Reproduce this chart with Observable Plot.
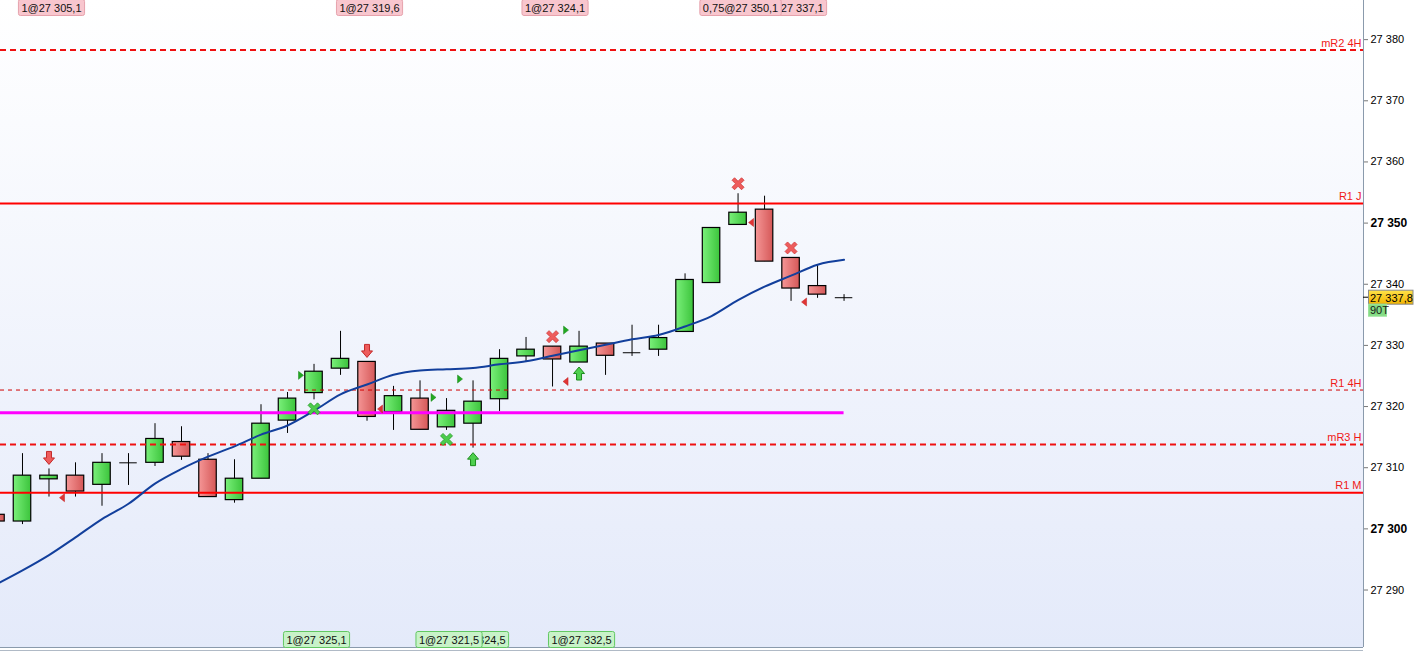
<!DOCTYPE html>
<html>
<head>
<meta charset="utf-8">
<script src="https://cdn.jsdelivr.net/npm/d3@7"></script>
<script src="https://cdn.jsdelivr.net/npm/@observablehq/plot@0.6"></script>
<style>
  body { margin: 0; background: #fff; }
  #chart svg { display: block; }
</style>
</head>
<body>
<div id="chart"></div>
<script>
// bougies, une par position (index 0 = la plus ancienne)
const open  = [27302.3, 27301.2, 27308.1, 27308.7, 27307.2, 27310.8, 27310.8, 27314.2, 27311.3, 27304.7, 27308.2,
               27317.7, 27322.2, 27326.2, 27327.3, 27319.1, 27321.3, 27316.6, 27317.2, 27321.2, 27328.2, 27329.8,
               27327.2, 27330.3, 27328.8, 27329.3, 27332.2, 27340.2, 27349.7, 27352.2, 27344.3, 27339.7, 27337.8]
const high  = [27302.3, 27312.3, 27309.8, 27310.8, 27312.3, 27312.3, 27317.2, 27316.7, 27312.3, 27311.3, 27320.3,
               27322.3, 27326.9, 27332.3, 27327.3, 27323.3, 27324.2, 27321.3, 27324.2, 27329.3, 27331.3, 27329.8,
               27332.3, 27330.3, 27333.3, 27333.3, 27341.7, 27349.2, 27354.8, 27354.4, 27344.3, 27343.1, 27338.3]
const low   = [27301.2, 27300.7, 27305.2, 27305.2, 27303.7, 27307.1, 27310.2, 27311.2, 27305.2, 27304.2, 27308.2,
               27315.6, 27321.1, 27325.1, 27317.6, 27316.1, 27316.2, 27316.1, 27313.2, 27319.2, 27327.2, 27323.2,
               27327.2, 27325.1, 27328.2, 27328.2, 27332.2, 27340.2, 27349.7, 27343.7, 27337.2, 27337.7, 27337.2]
const close = [27301.2, 27308.7, 27308.7, 27306.1, 27310.8, 27310.8, 27314.7, 27311.8, 27305.2, 27308.2, 27317.2,
               27321.3, 27325.7, 27327.8, 27318.3, 27321.7, 27316.2, 27319.3, 27320.8, 27327.8, 27329.3, 27327.7,
               27329.8, 27328.3, 27328.8, 27331.2, 27340.7, 27349.2, 27351.7, 27343.7, 27339.3, 27338.3, 27337.8]

// moyenne mobile (ligne bleue)
const moyenne = [27290.9, 27293.2, 27295.7, 27298.6, 27301.6, 27304.1, 27307.4, 27309.8, 27311.8, 27313.5, 27315.4,
                 27316.9, 27319.3, 27322.0, 27323.6, 27325.2, 27325.9, 27326.1, 27326.3, 27326.9, 27327.4, 27328.3,
                 27329.2, 27330.1, 27331.0, 27331.7, 27333.1, 27334.8, 27337.4, 27339.6, 27341.4, 27343.2, 27344.0]

// niveaux
const niveauNoms    = ["mR2 4H", "R1 J", "R1 4H", "mR3 H", "R1 M"]
const niveauValeurs = [27378.3, 27353.2, 27322.7, 27313.8, 27305.9]
const niveauStyles  = ["tirets", "plein", "fin", "tirets", "plein"]
const pivot = 27319.0
const pivotFin = 32

// ordres
const venteIdx   = [2, 14, 21, 28, 30]
const ventePrix  = [27305.1, 27319.6, 27324.1, 27350.1, 27337.1]
const venteQte   = ["1", "1", "1", "0,75", "1"]
const venteSigne = ["fleche", "fleche", "croix", "croix", "croix"]
const achatIdx   = [12, 17, 18, 22]
const achatPrix  = [27325.1, 27321.5, 27324.5, 27332.5]
const achatQte   = ["1", "1", "1", "1"]
const achatSigne = ["croix", "croix", "fleche", "fleche"]

const ticks = [27290, 27300, 27310, 27320, 27330, 27340, 27350, 27360, 27370, 27380]
const dernier = 27337.8
const volume = "90T"

const loc = d3.formatLocale({decimal: ",", thousands: " ", grouping: [3], currency: ["", ""]})
const fmtPrix = loc.format(",.1f")
const fmtTick = loc.format(",d")

const candles = open.map((o, i) => ({i, open: o, high: high[i], low: low[i], close: close[i]}))
const ma = moyenne.map((v, i) => ({i, v}))
const niveaux = niveauNoms.map((n, k) => ({nom: n, y: niveauValeurs[k], style: niveauStyles[k]}))
const ventes = venteIdx.map((d, k) => ({i: d, prix: ventePrix[k], qte: venteQte[k], signe: venteSigne[k], high: high[d]}))
const achats = achatIdx.map((d, k) => ({i: d, prix: achatPrix[k], qte: achatQte[k], signe: achatSigne[k], low: low[d]}))

const demi = 0.33
const font = "'Liberation Sans', Arial, sans-serif"

// symboles
const flecheBas = {draw(c) { c.moveTo(-2.5, -6.5); c.lineTo(2.5, -6.5); c.lineTo(2.5, 0); c.lineTo(5.5, 0); c.lineTo(0, 6.5); c.lineTo(-5.5, 0); c.lineTo(-2.5, 0); c.closePath() }}
const flecheHaut = {draw(c) { c.moveTo(-2.5, 6.5); c.lineTo(2.5, 6.5); c.lineTo(2.5, 0); c.lineTo(5.5, 0); c.lineTo(0, -6.5); c.lineTo(-5.5, 0); c.lineTo(-2.5, 0); c.closePath() }}
const croix = {draw(c) {
  const p = [[-6,-3.5],[-3.5,-6],[0,-2.5],[3.5,-6],[6,-3.5],[2.5,0],[6,3.5],[3.5,6],[0,2.5],[-3.5,6],[-6,3.5],[-2.5,0]]
  c.moveTo(...p[0]); p.slice(1).forEach(q => c.lineTo(...q)); c.closePath()
}}
const triGauche = {draw(c) { c.moveTo(-2.5, 0); c.lineTo(2.5, -4); c.lineTo(2.5, 4); c.closePath() }}
const triDroite = {draw(c) { c.moveTo(2.5, 0); c.lineTo(-2.5, -4); c.lineTo(-2.5, 4); c.closePath() }}

function grad(defs, id, c0, c1, vertical) {
  const lg = defs.append("linearGradient").attr("id", id)
    .attr("x1", 0).attr("y1", 0).attr("x2", vertical ? 0 : 1).attr("y2", vertical ? 1 : 0)
  lg.append("stop").attr("offset", "0%").attr("stop-color", c0)
  lg.append("stop").attr("offset", "100%").attr("stop-color", c1)
}

// fond degrade + bords
function fond(index, scales, values, dim) {
  const g = d3.create("svg:g")
  const defs = g.append("defs")
  grad(defs, "gUp", "#7af07a", "#3cc43c")
  grad(defs, "gDown", "#f59696", "#d55858")
  grad(defs, "gBg", "#ffffff", "#e4eafa", true)
  grad(defs, "gTag", "#ffe34a", "#f2b400", true)
  const x0 = dim.marginLeft, x1 = dim.width - dim.marginRight, y1 = dim.height - dim.marginBottom
  g.append("rect").attr("x", x0).attr("y", dim.marginTop).attr("width", x1 - x0).attr("height", y1 - dim.marginTop).attr("fill", "url(#gBg)")
  g.append("line").attr("x1", x1 + 0.5).attr("x2", x1 + 0.5).attr("y1", 0).attr("y2", y1).attr("stroke", "#8a9aac")
  g.append("line").attr("x1", 0).attr("x2", x1).attr("y1", y1 + 0.5).attr("y2", y1 + 0.5).attr("stroke", "#8a9aac")
  g.append("line").attr("x1", 0).attr("x2", x1).attr("y1", y1 + 3.5).attr("y2", y1 + 3.5).attr("stroke", "#b0bac6")
  return g.node()
}

function largeur(t) {
  let w = 0
  for (const ch of t) w += /[0-9]/.test(ch) ? 6.12 : ch === "@" ? 11.17 : 3.06
  return w
}

// etiquettes d'ordres en haut (ventes) et en bas (achats)
function etiquettes(index, scales, values, dim) {
  const g = d3.create("svg:g").attr("font-family", font).attr("font-size", 11).attr("text-anchor", "middle")
  const boite = (d, y, fill, stroke) => {
    const t = `${d.qte}@${fmtPrix(d.prix)}`
    const w = largeur(t) + 6
    const cx = scales.x(d.i) + 3
    g.append("rect").attr("x", cx - w / 2).attr("y", y).attr("width", w).attr("height", 16)
      .attr("rx", 2).attr("fill", fill).attr("stroke", stroke)
    g.append("text").attr("x", cx).attr("y", y + 12).attr("fill", "#111").text(t)
  }
  ventes.slice().sort((a, b) => b.i - a.i).forEach(d => boite(d, -0.5, "#f8c6ce", "#e6a2ac"))
  const yb = dim.height - dim.marginBottom - 15.5
  achats.slice().sort((a, b) => b.i - a.i).forEach(d => boite(d, yb, "#c8f2c8", "#62c862"))
  return g.node()
}

// dernier prix et volume sur l'axe
function prixActuel(index, scales, values, dim) {
  const g = d3.create("svg:g").attr("font-family", font).attr("text-anchor", "start")
  const x = dim.width - dim.marginRight
  const y = scales.y(dernier)
  g.append("line").attr("x1", x).attr("x2", x + 5).attr("y1", y).attr("y2", y).attr("stroke", "#000")
  g.append("rect").attr("x", x + 5.5).attr("y", y - 7).attr("width", 44.5).attr("height", 14)
    .attr("fill", "url(#gTag)").attr("stroke", "#8a8a8a")
  g.append("text").attr("x", x + 7).attr("y", y + 4.5).attr("font-size", 11).attr("fill", "#000").text(fmtPrix(dernier))
  g.append("rect").attr("x", x + 5.5).attr("y", y + 7).attr("width", 18).attr("height", 12)
    .attr("fill", "#84dc84").attr("stroke", "#9be39b")
  g.append("text").attr("x", x + 7).attr("y", y + 17).attr("font-size", 11).attr("fill", "#1a1a1a").text(volume)
  return g.node()
}

const chart = Plot.plot({
  width: 1414,
  height: 651,
  marginLeft: 0,
  marginRight: 51,
  marginTop: 0,
  marginBottom: 4,
  style: {fontFamily: font, background: "#fff"},
  x: {type: "linear", domain: [0.17, 51.6], axis: null},
  y: {domain: [27280.6, 27386.4]},
  marks: [
    fond,
    // meches
    Plot.ruleX(candles, {x: "i", y1: "low", y2: "high", stroke: "#000", strokeWidth: 1}),
    // corps
    Plot.rect(candles.filter(d => d.close > d.open), {x1: d => d.i - demi, x2: d => d.i + demi, y1: "open", y2: "close", fill: "url(#gUp)", stroke: "#000", strokeWidth: 1.2}),
    Plot.rect(candles.filter(d => d.close < d.open), {x1: d => d.i - demi, x2: d => d.i + demi, y1: "open", y2: "close", fill: "url(#gDown)", stroke: "#000", strokeWidth: 1.2}),
    Plot.ruleY(candles.filter(d => d.close === d.open), {y: "open", x1: d => d.i - demi, x2: d => d.i + demi, stroke: "#000", strokeWidth: 1}),
    // niveaux
    Plot.ruleY(niveaux.filter(d => d.style === "plein"), {y: "y", stroke: "#ff0000", strokeWidth: 2}),
    Plot.ruleY(niveaux.filter(d => d.style === "tirets"), {y: "y", stroke: "#f01010", strokeWidth: 2, strokeDasharray: "6,4"}),
    Plot.ruleY(niveaux.filter(d => d.style === "fin"), {y: "y", stroke: "#d00000", strokeWidth: 1, strokeDasharray: "4,4"}),
    Plot.text(niveaux, {y: "y", text: "nom", frameAnchor: "right", textAnchor: "end", dx: -2, dy: -7, fill: "#f01818", fontSize: 11}),
    Plot.ruleY([pivot], {y: d => d, x1: 0, x2: pivotFin, stroke: "#ff00ff", strokeWidth: 3}),
    // moyenne mobile
    Plot.line(ma, {x: "i", y: "v", stroke: "#123f9c", strokeWidth: 2, curve: "monotone-x"}),
    // signaux
    Plot.dot(ventes, {x: "i", y: "prix", dx: 13, symbol: triGauche, fill: "#e03434", stroke: "#c02020", strokeWidth: 0.5}),
    Plot.dot(achats, {x: "i", y: "prix", dx: -13, symbol: triDroite, fill: "#22a822", stroke: "#188818", strokeWidth: 0.5}),
    Plot.dot(ventes.filter(d => d.signe === "fleche"), {x: "i", y: "high", dy: -11, symbol: flecheBas, fill: "#ee5c5c", stroke: "#c42a2a", strokeWidth: 1}),
    Plot.dot(ventes.filter(d => d.signe === "croix"), {x: "i", y: "high", dy: -10, symbol: croix, fill: "#ee5c5c", stroke: "#d03a3a", strokeWidth: 0.8}),
    Plot.dot(achats.filter(d => d.signe === "fleche"), {x: "i", y: "low", dy: 11, symbol: flecheHaut, fill: "#4ed04e", stroke: "#1c8c1c", strokeWidth: 1}),
    Plot.dot(achats.filter(d => d.signe === "croix"), {x: "i", y: "low", dy: 9, symbol: croix, fill: "#4ccc4c", stroke: "#2a9a2a", strokeWidth: 0.8}),
    etiquettes,
    // axe des prix
    Plot.axisY(ticks.filter(t => t % 50 !== 0), {anchor: "right", tickSize: 4, tickPadding: 3, tickFormat: fmtTick, fontSize: 11, stroke: "#777", fill: "#000", label: null}),
    Plot.axisY(ticks.filter(t => t % 50 === 0), {anchor: "right", tickSize: 4, tickPadding: 3, tickFormat: fmtTick, fontSize: 12, fontWeight: "bold", stroke: "#777", fill: "#000", label: null}),
    prixActuel,
  ],
})

d3.select('#chart').append(() => chart)
</script>
</body>
</html>
